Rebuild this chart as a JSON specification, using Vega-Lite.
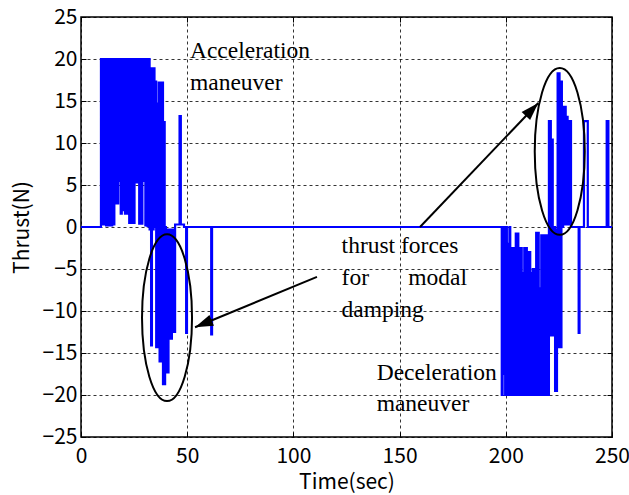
{
  "$schema": "https://vega.github.io/schema/vega-lite/v6.json",
  "width": 531,
  "height": 420,
  "autosize": {"type": "none"},
  "padding": {"left": 81, "top": 17, "right": 17, "bottom": 58},
  "background": "white",
  "config": {
    "view": {"stroke": "black", "strokeWidth": 1.5},
    "axis": {
      "gridColor": "black", "gridDash": [3, 3], "gridOpacity": 1, "gridWidth": 0.8,
      "domain": false, "tickColor": "black", "tickSize": -5, "tickWidth": 1, "labelFlush": false,
      "labelFont": "Noto Sans CJK JP", "labelFontSize": 21, "labelColor": "black",
      "titleFont": "Noto Sans CJK JP", "titleFontSize": 21, "titleFontWeight": "normal", "titleColor": "black"
    }
  },
  "datasets": {
    "thrust": [
      {"t": 0, "v": 0}, {"t": 9.4, "v": 20}, {"t": 9.9, "v": 0.3}, {"t": 10.4, "v": 20}, {"t": 10.9, "v": 0.3},
      {"t": 11.3, "v": 20}, {"t": 11.8, "v": 0.2}, {"t": 12.0, "v": 13}, {"t": 12.4, "v": 0.2}, {"t": 12.7, "v": 20},
      {"t": 13.2, "v": 0.2}, {"t": 13.7, "v": 20}, {"t": 14.2, "v": 0.2}, {"t": 14.7, "v": 20}, {"t": 15.2, "v": 0.3},
      {"t": 15.7, "v": 20}, {"t": 16.2, "v": 2.8}, {"t": 16.7, "v": 20}, {"t": 17.2, "v": 2.8}, {"t": 17.5, "v": 20},
      {"t": 17.9, "v": 5.5}, {"t": 18.2, "v": 20}, {"t": 18.7, "v": 1.6}, {"t": 19.2, "v": 20}, {"t": 19.7, "v": 2},
      {"t": 20.2, "v": 20}, {"t": 20.7, "v": 1.6}, {"t": 21.2, "v": 20}, {"t": 21.7, "v": 1.6}, {"t": 22.2, "v": 20},
      {"t": 22.7, "v": 0.5}, {"t": 23.2, "v": 20}, {"t": 23.7, "v": 0.5}, {"t": 24.2, "v": 20}, {"t": 24.7, "v": 0.5},
      {"t": 25.2, "v": 20}, {"t": 25.7, "v": 5.3}, {"t": 26.2, "v": 20}, {"t": 26.5, "v": 5.3}, {"t": 26.9, "v": 20},
      {"t": 27.4, "v": 0.4}, {"t": 27.9, "v": 20}, {"t": 28.4, "v": 0.4}, {"t": 28.9, "v": 20}, {"t": 29.4, "v": 5.5},
      {"t": 29.8, "v": 20}, {"t": 30.3, "v": 0.2}, {"t": 30.8, "v": 20}, {"t": 31.3, "v": 0.1}, {"t": 31.8, "v": 20},
      {"t": 32.3, "v": -0.3}, {"t": 32.6, "v": 18.9}, {"t": 33.0, "v": -14.1}, {"t": 33.4, "v": 18.9}, {"t": 33.8, "v": -0.3},
      {"t": 34.2, "v": 18.9}, {"t": 34.6, "v": 0}, {"t": 35.0, "v": 17.3}, {"t": 35.4, "v": -14.3}, {"t": 35.8, "v": 14.7},
      {"t": 36.2, "v": -14.3}, {"t": 36.6, "v": 17.2}, {"t": 37.0, "v": -16}, {"t": 37.4, "v": 17.2}, {"t": 37.8, "v": -16},
      {"t": 38.2, "v": 17.2}, {"t": 38.6, "v": -18.7}, {"t": 39.0, "v": 12.5}, {"t": 39.4, "v": -18.7}, {"t": 39.6, "v": 0},
      {"t": 40.0, "v": -17.3}, {"t": 40.4, "v": -0.3}, {"t": 40.8, "v": -17.3}, {"t": 41.2, "v": -0.3}, {"t": 41.6, "v": -13.3},
      {"t": 42.0, "v": -0.3}, {"t": 42.4, "v": -13.3}, {"t": 42.8, "v": -0.3}, {"t": 43.2, "v": -12.5}, {"t": 43.6, "v": -0.3},
      {"t": 44.0, "v": -12.5}, {"t": 44.3, "v": 0.3}, {"t": 46.4, "v": 13.2}, {"t": 47.0, "v": 0.3}, {"t": 48.5, "v": 0},
      {"t": 49.5, "v": -12.6}, {"t": 49.9, "v": 0}, {"t": 61.3, "v": -12.8}, {"t": 61.7, "v": 0},
      {"t": 198.1, "v": -20}, {"t": 198.5, "v": 0}, {"t": 198.9, "v": -17.5}, {"t": 199.3, "v": 0}, {"t": 199.7, "v": -20},
      {"t": 200.1, "v": 0}, {"t": 200.5, "v": -20}, {"t": 200.9, "v": -2}, {"t": 201.3, "v": -20}, {"t": 201.7, "v": 0},
      {"t": 202.1, "v": -20}, {"t": 202.5, "v": -2.5}, {"t": 202.9, "v": -20}, {"t": 203.3, "v": -2.5}, {"t": 203.7, "v": -20},
      {"t": 204.0, "v": -6.5}, {"t": 204.3, "v": -20}, {"t": 204.7, "v": -0.8}, {"t": 205.1, "v": -20}, {"t": 205.5, "v": -0.8},
      {"t": 205.9, "v": -20}, {"t": 206.3, "v": -2.5}, {"t": 206.7, "v": -20}, {"t": 207.1, "v": -2.5}, {"t": 207.5, "v": -20},
      {"t": 207.9, "v": -5.5}, {"t": 208.3, "v": -20}, {"t": 208.7, "v": -2.5}, {"t": 209.1, "v": -20}, {"t": 209.5, "v": -2.5},
      {"t": 209.9, "v": -20}, {"t": 210.3, "v": -3}, {"t": 210.7, "v": -20}, {"t": 211.1, "v": -3}, {"t": 211.5, "v": -20},
      {"t": 211.9, "v": -5.5}, {"t": 212.3, "v": -20}, {"t": 212.7, "v": -5}, {"t": 213.1, "v": -20}, {"t": 213.5, "v": -5},
      {"t": 213.9, "v": -20}, {"t": 214.3, "v": -0.7}, {"t": 214.7, "v": -20}, {"t": 215.1, "v": -0.7}, {"t": 215.5, "v": -20},
      {"t": 215.9, "v": -7.3}, {"t": 216.3, "v": -20}, {"t": 216.7, "v": -1}, {"t": 217.1, "v": -20}, {"t": 217.5, "v": -1},
      {"t": 217.9, "v": -20}, {"t": 218.3, "v": -1}, {"t": 218.7, "v": -20}, {"t": 219.0, "v": -6}, {"t": 219.3, "v": -20},
      {"t": 219.7, "v": -1}, {"t": 220.1, "v": -20}, {"t": 220.3, "v": 12.6}, {"t": 220.6, "v": -12.9}, {"t": 220.9, "v": 12.6},
      {"t": 221.2, "v": -12.9}, {"t": 221.5, "v": 0.2}, {"t": 221.9, "v": 10.4}, {"t": 222.1, "v": -12.9}, {"t": 222.4, "v": 0},
      {"t": 223.2, "v": -19.5}, {"t": 223.5, "v": -0.3}, {"t": 223.8, "v": -19.5}, {"t": 224.1, "v": -0.3}, {"t": 224.4, "v": 18.3},
      {"t": 224.7, "v": -14.3}, {"t": 225.0, "v": 18.3}, {"t": 225.3, "v": -14.3}, {"t": 225.6, "v": 17.3}, {"t": 225.9, "v": -14.3},
      {"t": 226.2, "v": 17.3}, {"t": 226.4, "v": 0}, {"t": 227.0, "v": 14.3}, {"t": 227.4, "v": 0.3}, {"t": 227.8, "v": 14.3},
      {"t": 228.2, "v": 13.1}, {"t": 228.5, "v": 0.3}, {"t": 228.8, "v": 13.1}, {"t": 229.1, "v": 12.6}, {"t": 229.4, "v": 0.3},
      {"t": 229.7, "v": 12.6}, {"t": 230.0, "v": 0.3}, {"t": 230.3, "v": 12.6}, {"t": 230.7, "v": 0},
      {"t": 234.3, "v": -12.6}, {"t": 234.7, "v": 0},
      {"t": 236.8, "v": 12.6}, {"t": 238.6, "v": 0},
      {"t": 247.5, "v": 12.6}, {"t": 248.3, "v": 0}, {"t": 250, "v": 0}
    ],
    "ellipses": [{"t": 40.5, "v": -10.8}, {"t": 225.4, "v": 8.99}],
    "arrows": [
      {"name": "a1", "t1": 111.1, "v1": -5.93, "t2": 53.7, "v2": -11.94},
      {"name": "a2", "t1": 159.6, "v1": 0.0, "t2": 215.3, "v2": 14.76}
    ],
    "notes": [
      {"t": 51.3, "v": 20.08, "label": "Acceleration"},
      {"t": 51.3, "v": 16.27, "label": "maneuver"},
      {"t": 122.7, "v": -3.13, "label": "thrust forces"},
      {"t": 122.7, "v": -6.94, "label": "for"},
      {"t": 154.1, "v": -6.94, "label": "modal"},
      {"t": 122.7, "v": -10.75, "label": "damping"},
      {"t": 139.2, "v": -18.17, "label": "Deceleration"},
      {"t": 139.2, "v": -21.94, "label": "maneuver"}
    ]
  },
  "layer": [
    {
      "data": {"name": "thrust"},
      "mark": {"type": "line", "interpolate": "step-after", "color": "#0000ff", "strokeWidth": 2.2, "clip": true},
      "encoding": {
        "x": {"field": "t", "type": "quantitative", "scale": {"domain": [0, 250], "nice": false, "zero": false},
              "axis": {"values": [0, 50, 100, 150, 200, 250], "title": "Time(sec)", "grid": true, "labelPadding": 13, "titlePadding": 5}},
        "y": {"field": "v", "type": "quantitative", "scale": {"domain": [-25, 25], "nice": false, "zero": false},
              "axis": {"values": [-25, -20, -15, -10, -5, 0, 5, 10, 15, 20, 25], "title": "Thrust(N)", "grid": true, "labelPadding": 9, "titlePadding": 10}}
      }
    },
    {
      "data": {"name": "ellipses"},
      "mark": {"type": "point", "shape": "M -0.3 0 A 0.3 1 0 1 1 0.3 0 A 0.3 1 0 1 1 -0.3 0 Z", "size": 27800, "filled": false, "stroke": "black", "strokeWidth": 2, "opacity": 1},
      "encoding": {
        "x": {"field": "t", "type": "quantitative", "scale": {"domain": [0, 250], "nice": false, "zero": false}, "axis": null},
        "y": {"field": "v", "type": "quantitative", "scale": {"domain": [-25, 25], "nice": false, "zero": false}, "axis": null}
      }
    },
    {
      "data": {"name": "arrows"},
      "mark": {"type": "rule", "color": "black", "strokeWidth": 2},
      "encoding": {
        "x": {"field": "t1", "type": "quantitative", "scale": {"domain": [0, 250], "nice": false, "zero": false}, "axis": null},
        "y": {"field": "v1", "type": "quantitative", "scale": {"domain": [-25, 25], "nice": false, "zero": false}, "axis": null},
        "x2": {"field": "t2"},
        "y2": {"field": "v2"}
      }
    },
    {
      "data": {"name": "arrows"},
      "transform": [{"filter": "datum.name === 'a1'"}],
      "mark": {"type": "point", "shape": "M 0 0 L -2 -0.65 L -2 0.65 Z", "size": 324, "filled": true, "color": "black", "opacity": 1, "angle": 157.5},
      "encoding": {
        "x": {"field": "t2", "type": "quantitative", "scale": {"domain": [0, 250], "nice": false, "zero": false}, "axis": null},
        "y": {"field": "v2", "type": "quantitative", "scale": {"domain": [-25, 25], "nice": false, "zero": false}, "axis": null}
      }
    },
    {
      "data": {"name": "arrows"},
      "transform": [{"filter": "datum.name === 'a2'"}],
      "mark": {"type": "point", "shape": "M 0 0 L -2 -0.65 L -2 0.65 Z", "size": 324, "filled": true, "color": "black", "opacity": 1, "angle": 313.65},
      "encoding": {
        "x": {"field": "t2", "type": "quantitative", "scale": {"domain": [0, 250], "nice": false, "zero": false}, "axis": null},
        "y": {"field": "v2", "type": "quantitative", "scale": {"domain": [-25, 25], "nice": false, "zero": false}, "axis": null}
      }
    },
    {
      "data": {"name": "notes"},
      "mark": {"type": "text", "align": "left", "baseline": "alphabetic", "font": "Liberation Serif", "fontSize": 23.5, "color": "black"},
      "encoding": {
        "x": {"field": "t", "type": "quantitative", "scale": {"domain": [0, 250], "nice": false, "zero": false},
              "axis": {"orient": "top", "values": [0, 50, 100, 150, 200, 250], "labels": false, "title": null, "grid": false}},
        "y": {"field": "v", "type": "quantitative", "scale": {"domain": [-25, 25], "nice": false, "zero": false},
              "axis": {"orient": "right", "values": [-25, -20, -15, -10, -5, 0, 5, 10, 15, 20, 25], "labels": false, "title": null, "grid": false}},
        "text": {"field": "label"}
      }
    }
  ],
  "resolve": {"axis": {"x": "independent", "y": "independent"}}
}
